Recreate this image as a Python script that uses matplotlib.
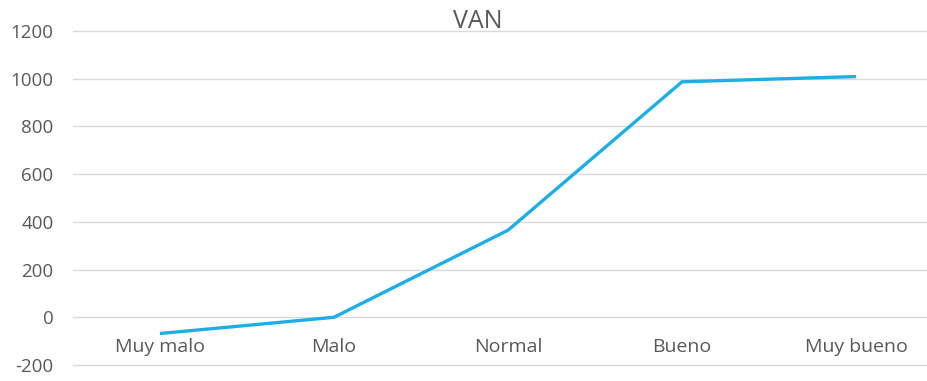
import matplotlib
matplotlib.use("Agg")
import matplotlib.pyplot as plt

escenarios = ["Muy malo", "Malo", "Normal", "Bueno", "Muy bueno"]
van = [-68, 0, 365, 987, 1009]
y_ticks = [-200, 0, 200, 400, 600, 800, 1000, 1200]

plt.rcParams['font.family'] = ['Open Sans', 'DejaVu Sans']
text_color = "#595959"

fig = plt.figure(figsize=(9.28, 3.81), dpi=100)
ax = fig.add_axes([73 / 928, 16 / 381, (928 - 73) / 928, 334 / 381])

x = list(range(len(escenarios)))
ax.plot(x, van, color="#1eaee4", linewidth=2.4, solid_capstyle="butt", zorder=3)

ax.set_xlim(-0.5, (928 - 73) / 174 - 0.5)
ax.set_ylim(-200, 1200)
ax.set_yticks(y_ticks)
ax.set_yticklabels([str(t) for t in y_ticks])
ax.set_xticks([])
ax.grid(axis="y", color="#d9d9d9", linewidth=1)
for gl in ax.get_ygridlines():
    gl.set_clip_on(False)
ax.set_axisbelow(True)
for s in ax.spines.values():
    s.set_visible(False)
ax.tick_params(axis="y", length=0, pad=14, labelsize=13.5, labelcolor=text_color)

# category labels sit just under the zero line
for xi, name in zip(x, escenarios):
    ax.text(xi, -125, name, ha="center", va="center", fontsize=14, color=text_color)

fig.text(478 / 928, 1 - 21 / 381, "VAN", ha="center", va="center", fontsize=18, color=text_color)

fig.savefig("out.png", dpi=100)
